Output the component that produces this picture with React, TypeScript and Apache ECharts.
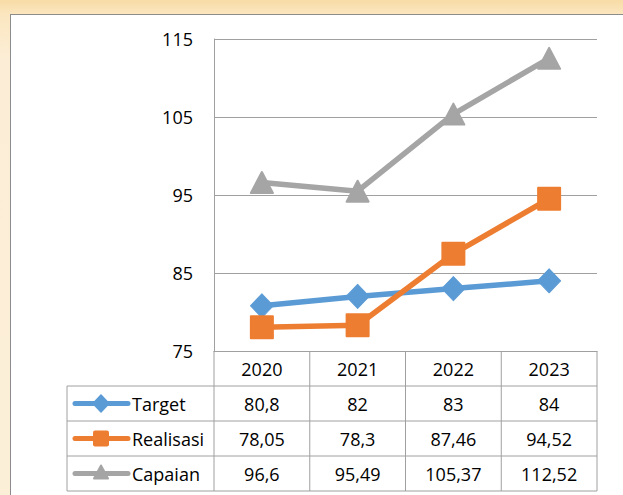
import React, { useEffect, useRef } from 'react';
import * as echarts from 'echarts';

const categories = ['2020', '2021', '2022', '2023'];
const seriesNames = ['Target', 'Realisasi', 'Capaian'];
const target = [80.8, 82, 83, 84];
const realisasi = [78.05, 78.3, 87.46, 94.52];
const capaian = [96.6, 95.49, 105.37, 112.52];
const yMin = 75;
const yMax = 115;
const yStep = 10;

const colors = ['#5B9BD5', '#ED7D31', '#A5A5A5'];
const FONT = '"Open Sans", "Noto Sans", sans-serif';
const FS = 18;
const GRID_L = 214;
const GRID_R = 597;
const GRID_T = 39;
const GRID_B = 351;
const TABLE_L = 67;
const ROW_H = 35;
const LINE_C = '#A0A0A0';

const fmt = (v: number) => String(v).replace('.', ',');

export default function App() {
  const ref = useRef<HTMLDivElement>(null);
  useEffect(() => {
    const chart = echarts.init(ref.current!, null, { renderer: 'svg' });
    const data = [target, realisasi, capaian];
    const symbols = ['diamond', 'rect', 'triangle'];
    const colW = (GRID_R - GRID_L) / categories.length;
    const graphics: any[] = [];
    const hline = (x1: number, x2: number, y: number) =>
      graphics.push({ type: 'line', z: 10, shape: { x1, y1: y, x2, y2: y }, style: { stroke: LINE_C, lineWidth: 1 } });
    const vline = (x: number, y1: number, y2: number) =>
      graphics.push({ type: 'line', z: 10, shape: { x1: x, y1, x2: x, y2 }, style: { stroke: LINE_C, lineWidth: 1 } });
    const nRows = seriesNames.length;
    const tableBottom = GRID_B + ROW_H * (nRows + 1);
    hline(GRID_L, GRID_R, GRID_B + ROW_H);
    for (let r = 1; r <= nRows; r++) hline(TABLE_L, GRID_R, GRID_B + ROW_H * (r + 1));
    hline(TABLE_L, GRID_L, GRID_B + ROW_H);
    vline(TABLE_L, GRID_B + ROW_H, tableBottom);
    vline(GRID_L, GRID_B, tableBottom);
    for (let c = 1; c <= categories.length; c++) vline(GRID_L + colW * c, GRID_B, tableBottom);
    for (let r = 0; r < nRows; r++) {
      const cy = GRID_B + ROW_H * (r + 1) + ROW_H / 2;
      const col = colors[r];
      graphics.push({ type: 'line', z: 11, shape: { x1: 75, y1: cy, x2: 128, y2: cy }, style: { stroke: col, lineWidth: 5, lineCap: 'round' } });
      const mx = 101;
      if (r === 0) {
        graphics.push({ type: 'polygon', z: 12, shape: { points: [[mx, cy - 8.5], [mx + 8, cy], [mx, cy + 8.5], [mx - 8, cy]] }, style: { fill: col, stroke: col, lineWidth: 1.5, lineJoin: 'round' } });
      } else if (r === 1) {
        graphics.push({ type: 'rect', z: 12, shape: { x: mx - 8, y: cy - 8, width: 16, height: 16, r: 2 }, style: { fill: col } });
      } else {
        graphics.push({ type: 'polygon', z: 12, shape: { points: [[mx, cy - 8], [mx + 7, cy + 5], [mx - 7, cy + 5]] }, style: { fill: col, stroke: col, lineWidth: 2, lineJoin: 'round' } });
      }
      graphics.push({ type: 'text', z: 12, style: { text: seriesNames[r], x: 132, y: cy, align: 'left', verticalAlign: 'middle', fontSize: FS, fontFamily: FONT, fill: '#000' } });
      data[r].forEach((v, c) => {
        graphics.push({ type: 'text', z: 12, style: { text: fmt(v), x: GRID_L + colW * (c + 0.5), y: cy, align: 'center', verticalAlign: 'middle', fontSize: FS, fontFamily: FONT, fill: '#000' } });
      });
    }

    chart.setOption({
      animation: false,
      backgroundColor: 'transparent',
      grid: { left: GRID_L, right: 623 - GRID_R, top: GRID_T, bottom: 495 - GRID_B },
      xAxis: {
        type: 'category',
        data: categories,
        boundaryGap: true,
        axisLine: { show: true, lineStyle: { color: LINE_C, width: 1 } },
        axisTick: { show: false },
        axisLabel: { margin: 18, verticalAlign: 'middle', fontSize: FS, fontFamily: FONT, color: '#000' },
        splitLine: { show: false },
      },
      yAxis: {
        type: 'value',
        min: yMin,
        max: yMax,
        interval: yStep,
        axisLine: { show: true, lineStyle: { color: LINE_C, width: 1 } },
        axisTick: { show: false },
        axisLabel: { margin: 21, fontSize: FS, fontFamily: FONT, color: '#000' },
        splitLine: { show: true, lineStyle: { color: LINE_C, width: 1 } },
      },
      series: seriesNames.map((name, i) => ({
        name,
        type: 'line',
        data: data[i],
        symbol: symbols[i],
        symbolSize: i === 0 ? [23, 24] : i === 1 ? [22, 22] : [22, 21],
        lineStyle: { color: colors[i], width: 5.5 },
        itemStyle: { color: colors[i], borderColor: colors[i], borderWidth: i === 0 ? 1 : 2, borderJoin: 'round' },
        z: 2 + i,
      })),
      graphic: graphics,
    });
    return () => chart.dispose();
  }, []);
  return (
    <div
      style={{
        position: 'absolute',
        left: 0,
        top: 0,
        width: 623,
        height: 495,
        overflow: 'hidden',
        background: 'linear-gradient(180deg, #F8DCA6 0px, #FBE6BF 14px, #FCEED6 60px, #FCEFD8 100%)',
      }}
    >
      <div
        style={{
          position: 'absolute',
          left: 10,
          top: 14,
          width: 640,
          height: 500,
          background: '#FFFFFF',
          border: '1px solid #8C8C8C',
          boxSizing: 'border-box',
        }}
      />
      <div ref={ref} style={{ position: 'absolute', left: 0, top: 0, width: 623, height: 495 }} />
    </div>
  );
}
